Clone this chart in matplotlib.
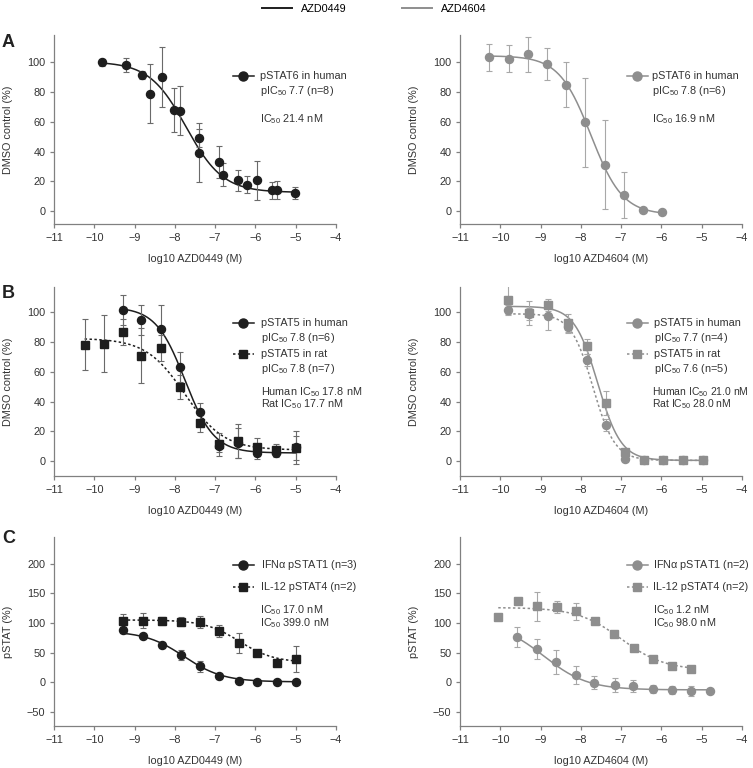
import numpy as np
import matplotlib.pyplot as plt
from matplotlib.lines import Line2D

plt.rcParams['font.family'] = ['Liberation Sans', 'DejaVu Sans']
plt.rcParams['mathtext.default'] = 'regular'
plt.rcParams['font.size'] = 7.8

BLACK = '#1e1e1e'
GREY = '#8e8e8e'
EBAR = {BLACK: '#6a6a6a', GREY: '#a8a8a8'}
AXIS = '#808080'
TXT = '#333333'
DOTS = (0, (1.6, 1.6))

# fit params are [top, bottom, logIC50, hill]

# A left: AZD0449, pSTAT6 in human
a1_x = [-9.80, -9.22, -8.81, -8.61, -8.33, -8.02, -7.86, -7.40, -7.41, -6.91, -6.80, -6.44, -6.20, -5.95, -5.60, -5.47, -5.03]
a1_y = [100, 98.4, 91.5, 79, 90.3, 68, 67.4, 49, 39.3, 33, 24.5, 20.7, 17.8, 20.7, 14, 14, 12]
a1_err = [2.5, 4.5, 2.5, 20, 20, 15, 16.5, 6, 20, 11, 8, 7, 6, 13, 5.7, 6, 4]
a1_fit = [100.5, 12.5, -7.72, 0.95]

# A right: AZD4604, pSTAT6 in human
a2_x = [-10.28, -9.79, -9.32, -8.85, -8.37, -7.89, -7.41, -6.93, -6.46, -5.98]
a2_y = [103.4, 102.5, 105.4, 99, 85, 59.8, 31, 10.8, 0.7, -0.5]
a2_err = [9, 9, 12, 11, 15, 30, 30, 15.5, 0, 0]
a2_fit = [104.5, -2.5, -7.75, 1.1]

# B left: AZD0449, pSTAT5 human / rat
b1_hx = [-9.29, -8.83, -8.34, -7.86, -7.38, -6.91, -6.44, -5.96, -5.48, -5.00]
b1_hy = [101.6, 95, 89, 63, 33, 10, 12, 5.6, 5.6, 9.2]
b1_herr = [10, 10, 16, 10, 6, 4, 10, 4, 3, 11]
b1_hfit = [103.5, 5.5, -7.75, 1.2]
b1_rx = [-10.24, -9.77, -9.29, -8.83, -8.34, -7.86, -7.38, -6.91, -6.44, -5.96, -5.48, -5.00]
b1_ry = [78.2, 79, 86.7, 70.8, 76, 49.7, 25.4, 11.2, 13.7, 9.4, 7.4, 9]
b1_rerr = [17, 19, 9, 18.5, 9, 8, 6, 8, 11.5, 6, 4, 8]
b1_rfit = [82.5, 7.5, -7.75, 0.9]

# B right: AZD4604, pSTAT5 human / rat
b2_hx = [-9.80, -9.29, -8.81, -8.33, -7.85, -7.37, -6.90, -6.43, -5.95, -5.47, -4.98]
b2_hy = [101.8, 99, 97.8, 90, 67.9, 24.5, 1.6, 0.7, 0.5, 0.5, 0.5]
b2_herr = [3, 4, 10, 4, 4, 4, 1, 0, 0, 0, 0]
b2_hfit = [104, 0.5, -7.58, 1.5]
b2_rx = [-9.80, -9.29, -8.81, -8.33, -7.85, -7.37, -6.90, -6.43, -5.95, -5.47, -4.98]
b2_ry = [108.3, 99.6, 105, 93, 77.3, 39, 6.3, 0.7, 0.5, 0.5, 0.5]
b2_rerr = [10, 8, 4, 6, 5, 8, 1, 0, 0, 0, 0]
b2_rfit = [99, 0.5, -7.7, 1.6]

# C left: AZD0449, IFNa pSTAT1 / IL-12 pSTAT4
c1_x = [-9.29, -8.80, -8.32, -7.85, -7.37, -6.90, -6.42, -5.95, -5.47, -5.00]
c1_y1 = [87.3, 77.7, 63, 46, 26.5, 10, 2.3, 1, 1, 0]
c1_err1 = [5, 3, 5, 9, 10, 4, 1, 0, 0, 0]
c1_fit1 = [86, 0.5, -7.77, 0.9]
c1_y4 = [104, 104, 103, 102, 101, 86, 66, 50, 32, 39.4]
c1_err4 = [11, 12, 7, 8, 10, 10, 17, 3, 4, 22]
c1_fit4 = [105, 33, -6.4, 1.0]

# C right: AZD4604, IFNa pSTAT1 / IL-12 pSTAT4
c2_x1 = [-9.58, -9.10, -8.62, -8.12, -7.67, -7.16, -6.70, -6.21, -5.73, -5.27, -4.79]
c2_y1 = [76, 56, 34, 12, -1, -5, -7, -12, -13, -15, -14.6]
c2_err1 = [17, 17, 21, 15, 11, 12, 10, 7, 7, 9, 0]
c2_fit1 = [101, -13, -8.92, 0.8]
c2_x4 = [-10.05, -9.56, -9.08, -8.60, -8.12, -7.66, -7.17, -6.69, -6.21, -5.73, -5.26]
c2_y4 = [110, 137.5, 128, 127, 119.4, 103, 81.7, 58, 39, 28, 22.5]
c2_err4 = [0, 0, 24, 10, 15, 5, 2, 2, 5, 2, 2]
c2_fit4 = [126, 20, -7.0, 0.8]


def logistic(x, top, bottom, logic50, hill):
    return bottom + (top - bottom) / (1 + 10 ** ((x - logic50) * hill))


def series(ax, x, y, err, fit, color, marker, ls):
    xx = np.linspace(min(x), max(x), 200)
    ax.plot(xx, logistic(xx, *fit), color=color, lw=1.1, ls=ls, zorder=2)
    ax.errorbar(x, y, yerr=err, fmt='none', ecolor=EBAR[color], elinewidth=0.8,
                capsize=2.3, capthick=0.8, zorder=3)
    ax.plot(x, y, ls='none', marker=marker, color=color,
            ms=5.8 if marker == 'o' else 5.2, zorder=4)


def key(ax, x0, y, color, marker, ls, lines, tx):
    ax.plot([x0, x0 + 0.075], [y, y], transform=ax.transAxes, color=color,
            lw=1.1, ls=ls, clip_on=False)
    ax.plot([x0 + 0.0375], [y], transform=ax.transAxes, color=color,
            marker=marker, ms=6.5 if marker == 'o' else 5.8, clip_on=False)
    for i, t in enumerate(lines):
        ax.text(tx, y - i * 0.08, t, transform=ax.transAxes, va='center',
                ha='left', color=TXT)


def notes(ax, x, y, lines, size=None):
    for i, t in enumerate(lines):
        ax.text(x, y - i * 0.065, t, transform=ax.transAxes, va='center',
                ha='left', color=TXT, fontsize=size)


def style(ax, ylim, yticks, xlabel, ylabel):
    ax.set_xlim(-11, -4)
    ax.set_ylim(*ylim)
    ax.set_xticks(range(-11, -3))
    ax.set_yticks(yticks)
    for s in ['top', 'right']:
        ax.spines[s].set_visible(False)
    for s in ['left', 'bottom']:
        ax.spines[s].set_linewidth(0.9)
        ax.spines[s].set_color(AXIS)
    ax.tick_params(length=3.2, width=0.9, color=AXIS, labelcolor=TXT, pad=3)
    ax.set_xlabel(xlabel, labelpad=8, color=TXT)
    ax.set_ylabel(ylabel, labelpad=10, color=TXT)


fig = plt.figure(figsize=(7.53, 7.68), dpi=100)
W, H = 753, 768


def axes_at(left, top):
    return fig.add_axes([left / W, 1 - (top + 189) / H, 282 / W, 189 / H])


ax_a1 = axes_at(54, 35)
ax_a2 = axes_at(460, 35)
ax_b1 = axes_at(54, 287)
ax_b2 = axes_at(460, 287)
ax_c1 = axes_at(54, 537)
ax_c2 = axes_at(460, 537)

sub = r'IC$_{50}$'
psub = r'pIC$_{50}$'

# row A
series(ax_a1, a1_x, a1_y, a1_err, a1_fit, BLACK, 'o', '-')
style(ax_a1, (-8.8, 118.5), range(0, 101, 20), 'log10 AZD0449 (M)', 'DMSO control (%)')
key(ax_a1, 0.633, 0.783, BLACK, 'o', '-', ['pSTAT6 in human', psub + ' 7.7 (n=8)'], 0.730)
notes(ax_a1, 0.730, 0.556, [sub + ' 21.4 nM'])

series(ax_a2, a2_x, a2_y, a2_err, a2_fit, GREY, 'o', '-')
style(ax_a2, (-8.8, 118.5), range(0, 101, 20), 'log10 AZD4604 (M)', 'DMSO control (%)')
key(ax_a2, 0.591, 0.783, GREY, 'o', '-', ['pSTAT6 in human', psub + ' 7.8 (n=6)'], 0.680)
notes(ax_a2, 0.680, 0.556, [sub + ' 16.9 nM'])

# row B
series(ax_b1, b1_rx, b1_ry, b1_rerr, b1_rfit, BLACK, 's', DOTS)
series(ax_b1, b1_hx, b1_hy, b1_herr, b1_hfit, BLACK, 'o', '-')
style(ax_b1, (-10, 117), range(0, 101, 20), 'log10 AZD0449 (M)', 'DMSO control (%)')
key(ax_b1, 0.633, 0.811, BLACK, 'o', '-', ['pSTAT5 in human', psub + ' 7.8 (n=6)'], 0.733)
key(ax_b1, 0.633, 0.646, BLACK, 's', DOTS, ['pSTAT5 in rat', psub + ' 7.8 (n=7)'], 0.733)
notes(ax_b1, 0.733, 0.443, ['Human ' + sub + ' 17.8 nM', 'Rat ' + sub + ' 17.7 nM'])

series(ax_b2, b2_rx, b2_ry, b2_rerr, b2_rfit, GREY, 's', DOTS)
series(ax_b2, b2_hx, b2_hy, b2_herr, b2_hfit, GREY, 'o', '-')
style(ax_b2, (-10, 117), range(0, 101, 20), 'log10 AZD4604 (M)', 'DMSO control (%)')
key(ax_b2, 0.591, 0.811, GREY, 'o', '-', ['pSTAT5 in human', psub + ' 7.7 (n=4)'], 0.688)
key(ax_b2, 0.591, 0.646, GREY, 's', DOTS, ['pSTAT5 in rat', psub + ' 7.6 (n=5)'], 0.688)
notes(ax_b2, 0.680, 0.443, ['Human ' + sub + ' 21.0 nM', 'Rat ' + sub + ' 28.0 nM'], size=7.5)

# row C
series(ax_c1, c1_x, c1_y4, c1_err4, c1_fit4, BLACK, 's', DOTS)
series(ax_c1, c1_x, c1_y1, c1_err1, c1_fit1, BLACK, 'o', '-')
style(ax_c1, (-74, 245), range(-50, 201, 50), 'log10 AZD0449 (M)', 'pSTAT (%)')
key(ax_c1, 0.633, 0.852, BLACK, 'o', '-', [r'IFN$\alpha$ pSTAT1 (n=3)'], 0.733)
key(ax_c1, 0.633, 0.735, BLACK, 's', DOTS, ['IL-12 pSTAT4 (n=2)'], 0.733)
notes(ax_c1, 0.730, 0.612, [sub + ' 17.0 nM', sub + ' 399.0 nM'])

series(ax_c2, c2_x4, c2_y4, c2_err4, c2_fit4, GREY, 's', DOTS)
series(ax_c2, c2_x1, c2_y1, c2_err1, c2_fit1, GREY, 'o', '-')
style(ax_c2, (-74, 245), range(-50, 201, 50), 'log10 AZD4604 (M)', 'pSTAT (%)')
key(ax_c2, 0.591, 0.852, GREY, 'o', '-', [r'IFN$\alpha$ pSTAT1 (n=2)'], 0.686)
key(ax_c2, 0.591, 0.735, GREY, 's', DOTS, ['IL-12 pSTAT4 (n=2)'], 0.686)
notes(ax_c2, 0.686, 0.612, [sub + ' 1.2 nM', sub + ' 98.0 nM'])

# panel letters
for letter, top in [('A', 34), ('B', 285), ('C', 530)]:
    fig.text(2 / W, 1 - top / H, letter, fontsize=13, fontweight='bold',
             va='top', ha='left', color='#222222')

# compound legend
handles = [Line2D([], [], color=BLACK, lw=1.4), Line2D([], [], color=GREY, lw=1.4)]
fig.legend(handles, ['AZD0449', 'AZD4604'], loc='upper center',
           bbox_to_anchor=(0.497, 1.008), ncol=2, frameon=False,
           handlelength=2.8, columnspacing=5.1, handletextpad=0.8)

fig.savefig('out.png', dpi=100)
